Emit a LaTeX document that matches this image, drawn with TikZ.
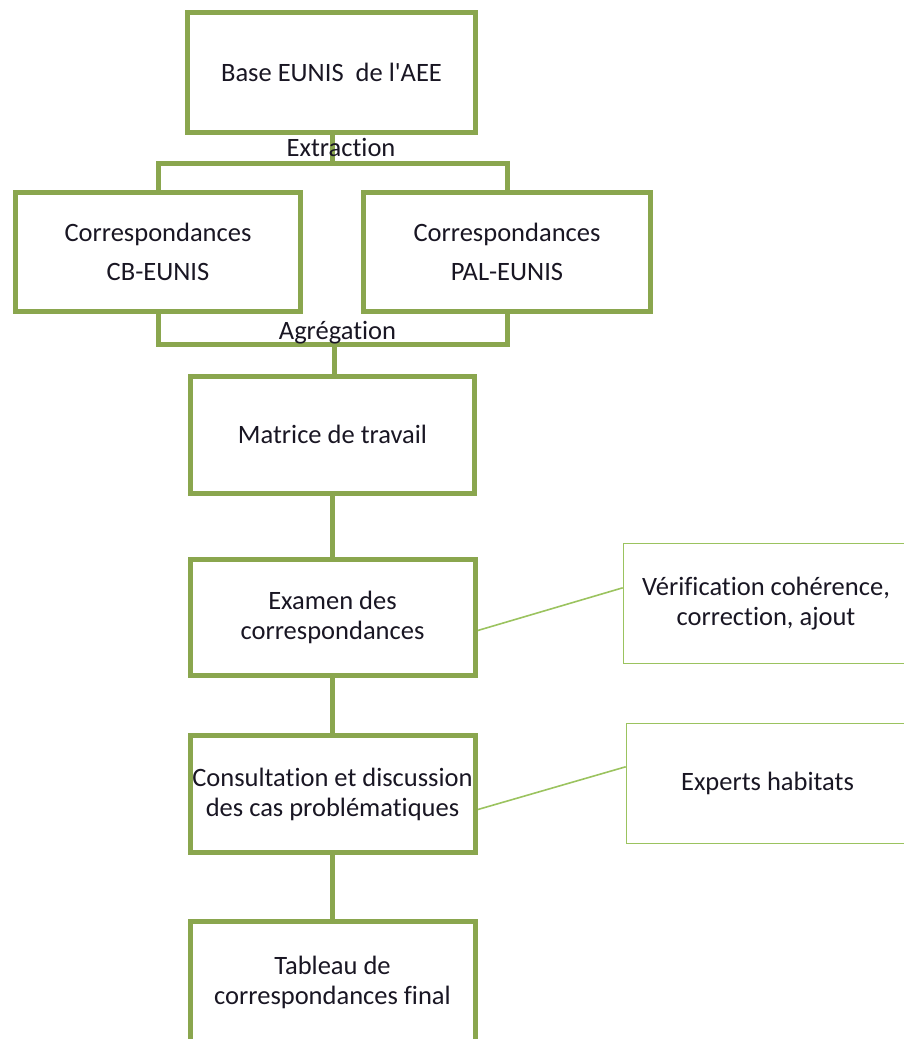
\documentclass[tikz,border=0pt]{standalone}
\usepackage{fontspec}
\setmainfont{Carlito}[Ligatures={TeXOff,NoCommon}]
\usetikzlibrary{calc,backgrounds}
\definecolor{boxgreen}{RGB}{138,166,78}
\definecolor{thingreen}{RGB}{155,195,95}
\definecolor{txt}{RGB}{25,22,35}
\begin{document}
\begin{tikzpicture}[x=1pt,y=-1pt,
  mainbox/.style={draw=boxgreen, line width=5pt, rectangle, inner sep=0pt, align=center, text=txt,
    font=\fontsize{26.5}{30}\selectfont},
  sidebox/.style={draw=thingreen, line width=1.6pt, rectangle, inner sep=0pt, align=center, text=txt,
    font=\fontsize{26.5}{30}\selectfont},
  link/.style={draw=boxgreen, line width=5pt},
  thinlink/.style={draw=thingreen, line width=1.6pt},
  lbl/.style={text=txt, inner sep=0pt, font=\fontsize{26.5}{30}\selectfont}
]
\useasboundingbox (0,0) rectangle (903,1039);

\node[mainbox, minimum width=288pt, minimum height=120pt] (base) at (331.5,72) {Base EUNIS\ \ de l'AEE};
\node[mainbox, minimum width=285pt, minimum height=119pt, font=\fontsize{26.5}{39}\selectfont] (cb) at (158,251.5) {Correspondances\\CB-EUNIS};
\node[mainbox, minimum width=287pt, minimum height=119pt, font=\fontsize{26.5}{39}\selectfont] (pal) at (507,251.5) {Correspondances\\PAL-EUNIS};
\node[mainbox, minimum width=284pt, minimum height=117pt] (mat) at (332.5,434.5) {Matrice de travail};
\node[mainbox, minimum width=285pt, minimum height=116pt] (exa) at (332.5,617.5) {Examen des\\correspondances};
\node[mainbox, minimum width=285pt, minimum height=117pt] (con) at (332.5,794) {Consultation et discussion\\des cas problématiques};
\node[mainbox, minimum width=285pt, minimum height=122pt] (tab) at (332.5,982) {Tableau de\\correspondances final};

\node[sidebox, minimum width=285pt, minimum height=120pt] (ver) at (766,603.5) {Vérification cohérence,\\correction, ajout};
\node[sidebox, minimum width=282pt, minimum height=120pt] (exp) at (767.5,783.5) {Experts habitats};

\coordinate (ext) at (332.7,163.5);
\coordinate (agg) at (334,344);

\begin{scope}[on background layer]
  \draw[link] (base.south -| ext) -- (ext);
  \draw[link] (cb.north) |- (ext) -| (pal.north);
  \draw[link] (cb.south) |- (agg) -| (pal.south);
  \draw[link] (agg) -- (mat.north -| agg);
  \draw[link] (mat.south) -- (exa.north);
  \draw[link] (exa.south) -- (con.north);
  \draw[link] (con.south) -- (tab.north);
  \draw[thinlink] ($(exa.south east)!0.392!(exa.north east)$) -- ($(ver.south west)!0.629!(ver.north west)$);
  \draw[thinlink] ($(con.south east)!0.372!(con.north east)$) -- ($(exp.south west)!0.6375!(exp.north west)$);
\end{scope}

\node[lbl, anchor=base] (extl) at (341,156) {Extraction};
\node[lbl, anchor=base] (aggl) at (337.5,339) {Agrégation};
\end{tikzpicture}
\end{document}
